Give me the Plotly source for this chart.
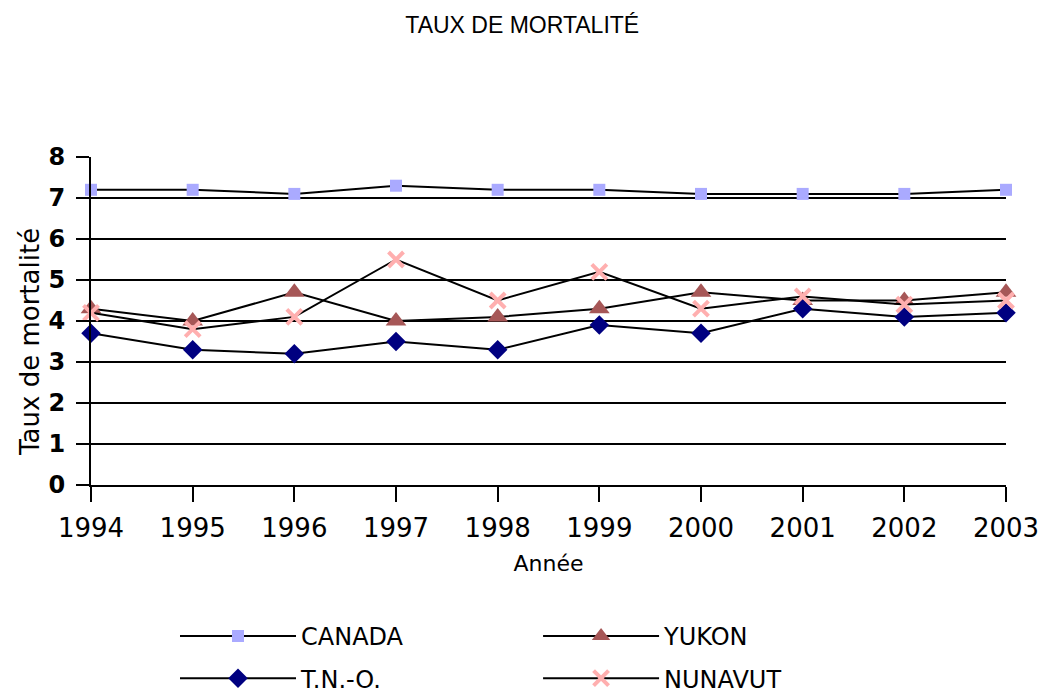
import plotly.graph_objects as go

years = [1994, 1995, 1996, 1997, 1998, 1999, 2000, 2001, 2002, 2003]
canada = [7.2, 7.2, 7.1, 7.3, 7.2, 7.2, 7.1, 7.1, 7.1, 7.2]
yukon = [4.3, 4.0, 4.7, 4.0, 4.1, 4.3, 4.7, 4.5, 4.5, 4.7]
tno = [3.7, 3.3, 3.2, 3.5, 3.3, 3.9, 3.7, 4.3, 4.1, 4.2]
nunavut = [4.2, 3.8, 4.1, 5.5, 4.5, 5.2, 4.3, 4.6, 4.4, 4.5]
y_ticks = [0, 1, 2, 3, 4, 5, 6, 7, 8]

FONT = "DejaVu Sans"

fig = go.Figure()

fig.add_trace(go.Scatter(x=years, y=canada, name="CANADA", mode="lines+markers",
                         line=dict(color="black", width=2),
                         marker=dict(symbol="square", size=12, color="#AAAAFF"),
                         legend="legend", legendgroup="a", cliponaxis=False))
fig.add_trace(go.Scatter(x=years, y=yukon, name="YUKON", mode="lines+markers",
                         line=dict(color="black", width=2),
                         marker=dict(symbol="triangle-up", size=18, color="#A65757"),
                         legend="legend2", legendgroup="b", cliponaxis=False))
fig.add_trace(go.Scatter(x=years, y=tno, name="T.N.-O.", mode="lines+markers",
                         line=dict(color="black", width=2),
                         marker=dict(symbol="diamond", size=15, color="#000080"),
                         legend="legend", legendgroup="c", cliponaxis=False))
fig.add_trace(go.Scatter(x=years, y=nunavut, name="NUNAVUT", mode="lines+markers",
                         line=dict(color="black", width=2),
                         marker=dict(symbol="x-thin", size=15,
                                     line=dict(color="#FFAFAF", width=4)),
                         legend="legend2", legendgroup="d", cliponaxis=False))

legend_style = dict(orientation="v", yanchor="top", xanchor="left",
                    font=dict(family=FONT, size=24, color="black"),
                    itemwidth=116, traceorder="grouped", tracegroupgap=8,
                    bgcolor="rgba(0,0,0,0)")

fig.update_layout(
    width=1041, height=688,
    margin=dict(l=83, r=43, t=149, b=211, autoexpand=False),
    paper_bgcolor="white", plot_bgcolor="white",
    title=dict(text="TAUX DE MORTALITÉ", x=0.494, xanchor="center", y=0.975, yanchor="middle",
               font=dict(family="Liberation Sans", size=23, color="black")),
    legend=dict(x=0.0918, y=-0.393, **legend_style),
    legend2=dict(x=0.4886, y=-0.393, **legend_style),
    annotations=[dict(text="Taux de mortalité", textangle=-90, xref="paper", yref="paper",
                      x=-0.0667, y=0.436, xanchor="center", yanchor="middle", showarrow=False,
                      font=dict(family=FONT, size=26, color="black"))],
)

fig.update_xaxes(range=[1994, 2003], tickmode="array", tickvals=years,
                 ticks="outside", ticklen=15, tickwidth=2, tickcolor="black",
                 showgrid=False, zeroline=False, showline=True, linecolor="black", linewidth=2,
                 tickfont=dict(family=FONT, size=26, color="black"),
                 ticklabelstandoff=4,
                 title=dict(text="Année", font=dict(family=FONT, size=22, color="black"),
                            standoff=13))
fig.update_yaxes(range=[0, 8], tickmode="array", tickvals=y_ticks,
                 ticks="outside", ticklen=13, tickwidth=2, tickcolor="black",
                 showgrid=True, gridcolor="black", gridwidth=2,
                 zeroline=False, showline=True, linecolor="black", linewidth=2,
                 tickfont=dict(family=FONT, size=24, color="black", weight="bold"),
                 ticklabelstandoff=6)

fig.write_html("out.html")
